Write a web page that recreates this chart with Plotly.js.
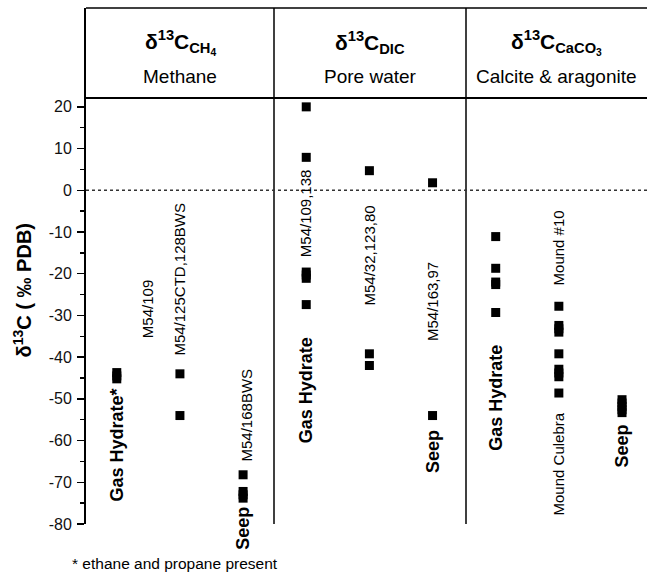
<!DOCTYPE html>
<html><head><meta charset="utf-8">
<script src="https://cdn.plot.ly/plotly-3.0.1.min.js"></script>
<style>body{margin:0;background:#fff}#chart{width:647px;height:574px}</style>
</head><body><div id="chart"></div>
<script>
// ---- data ----
const categories = ['CH4 Gas Hydrate','CH4 M54/125CTD,128BWS','CH4 Seep','DIC Gas Hydrate','DIC M54/32,123,80','DIC Seep','CaCO3 Gas Hydrate','CaCO3 Mound','CaCO3 Seep'];
const ch4GasHydrate = [-43.7, -44.5, -45.2];
const ch4M54_125 = [-44, -54];
const ch4Seep = [-68.2, -72.2, -73, -73.8];
const dicGasHydrate = [20, 7.9, -19.6, -20.3, -21.1, -27.4];
const dicM54_32 = [4.7, -39.2, -42];
const dicSeep = [1.8, -54];
const caco3GasHydrate = [-11.1, -18.7, -22, -22.6, -29.3];
const caco3Mound = [-27.8, -32.4, -33.2, -34, -39.2, -42.9, -43.8, -44.7, -48.6];
const caco3Seep = [-50.2, -51, -51.8, -52.6, -53.3];
const yTickVals = [-80, -70, -60, -50, -40, -30, -20, -10, 0, 10, 20];
const yMinorVals = [-75, -65, -55, -45, -35, -25, -15, -5, 5, 15];
const yTickText = yTickVals.map(String);
const headerTitles = ['δ<sup>13</sup>C<sub>CH<sub>4</sub></sub>', 'δ<sup>13</sup>C<sub>DIC</sub>', 'δ<sup>13</sup>C<sub>CaCO<sub>3</sub></sub>'];
const headerNames = ['Methane', 'Pore water', 'Calcite &amp; aragonite'];
const footnote = '* ethane and propane present';
const yTitle = 'δ<sup>13</sup>C ( ‰ PDB)';

const series = [ch4GasHydrate, ch4M54_125, ch4Seep, dicGasHydrate, dicM54_32, dicSeep, caco3GasHydrate, caco3Mound, caco3Seep];

// ---- layout helpers ----
const W = 647, H = 574;
const M = {l: 86, r: 0, t: 8, b: 50};
const plotH = H - M.t - M.b, plotW = W - M.l - M.r;
const pxToPaperX = px => (px - M.l) / plotW;
const pxToPaperY = py => (H - M.b - py) / plotH;

const traces = series.map((vals, i) => ({
  type: 'scatter', mode: 'markers', name: categories[i],
  x: vals.map(() => i + 1), y: vals,
  marker: {symbol: 'square', size: 9, color: '#000', line: {width: 0}},
  hoverinfo: 'y', showlegend: false
}));

const FONT = 'Liberation Sans, Arial, sans-serif';
const reg = {family: FONT, size: 15, color: '#000'};
const bold = {family: FONT, size: 18, color: '#000', weight: 'bold'};

function lab(text, x, y, anchor, isBold) {
  return {text: isBold ? '<b>' + text + '</b>' : text, x: x, y: y, xref: 'x', yref: 'y',
    textangle: -90, showarrow: false, xanchor: 'center', yanchor: anchor,
    font: isBold ? bold : reg};
}

const annotations = [
  lab('Gas Hydrate*', 1, -47, 'top', true),
  lab('M54/109', 1.48, -35.9, 'bottom', false),
  lab('M54/125CTD,128BWS', 2, -40, 'bottom', false),
  lab('M54/168BWS', 3.06, -65.4, 'bottom', false),
  lab('Seep', 3, -75.5, 'top', true),
  lab('M54/109,138', 4, 5.6, 'top', false),
  lab('Gas Hydrate', 4, -34.7, 'top', true),
  lab('M54/32,123,80', 5, -28, 'bottom', false),
  lab('M54/163,97', 6, -36.6, 'bottom', false),
  lab('Seep', 6, -57, 'top', true),
  lab('Gas Hydrate', 7, -36.6, 'top', true),
  lab('Mound #10', 8, -23.2, 'bottom', false),
  lab('Mound Culebra', 8, -52.7, 'top', false),
  lab('Seep', 9, -55.8, 'top', true)
];

const headerX = [180, 370, 556];
headerX.forEach((px, i) => {
  annotations.push({text: '<b>' + headerTitles[i] + '</b>', xref: 'paper', yref: 'paper',
    x: pxToPaperX(px), y: pxToPaperY(42), xanchor: 'center', yanchor: 'middle', showarrow: false,
    font: {family: FONT, size: 21, color: '#000'}});
  annotations.push({text: headerNames[i], xref: 'paper', yref: 'paper',
    x: pxToPaperX(px), y: pxToPaperY(76), xanchor: 'center', yanchor: 'middle', showarrow: false,
    font: {family: FONT, size: 19, color: '#000'}});
});

annotations.push({text: '<b>' + yTitle + '</b>', xref: 'paper', yref: 'y',
  x: pxToPaperX(22), y: -24, xanchor: 'center', yanchor: 'middle', textangle: -90, showarrow: false,
  font: {family: FONT, size: 20, color: '#000'}});
annotations.push({text: footnote, xref: 'paper', yref: 'paper',
  x: pxToPaperX(70), y: pxToPaperY(563), xanchor: 'left', yanchor: 'middle', showarrow: false,
  font: {family: FONT, size: 15.5, color: '#000'}});

const shapes = [
  {type: 'line', xref: 'paper', yref: 'paper', x0: 0, x1: 1, y0: 1, y1: 1, line: {color: '#000', width: 1.5}},
  {type: 'line', xref: 'paper', yref: 'paper', x0: 0, x1: 1, y0: pxToPaperY(98), y1: pxToPaperY(98), line: {color: '#000', width: 2}},
  {type: 'line', xref: 'paper', yref: 'paper', x0: pxToPaperX(274), x1: pxToPaperX(274), y0: 0, y1: 1, line: {color: '#000', width: 1.5}},
  {type: 'line', xref: 'paper', yref: 'paper', x0: pxToPaperX(466), x1: pxToPaperX(466), y0: 0, y1: 1, line: {color: '#000', width: 1.5}},
  {type: 'line', xref: 'paper', yref: 'y', x0: 0, x1: 1, y0: 0, y1: 0, line: {color: '#333', width: 1.5, dash: 'dot'}}
];

const layout = {
  width: W, height: H, margin: M,
  paper_bgcolor: '#fff', plot_bgcolor: '#fff',
  showlegend: false,
  xaxis: {range: [2 - 94/63.2, 9 + 25/63.2], visible: false, fixedrange: true},
  yaxis: {range: [-80, 43.7], tickmode: 'array', tickvals: yTickVals, ticktext: yTickText,
    ticks: 'outside', ticklen: 7, tickwidth: 1.5, tickcolor: '#000',
    minor: {tickmode: 'array', tickvals: yMinorVals, ticks: 'outside', ticklen: 4, tickwidth: 1.5, tickcolor: '#000'},
    showline: true, linewidth: 2, linecolor: '#000', showgrid: false, zeroline: false,
    tickfont: {family: FONT, size: 16, color: '#111'}, ticklabelstandoff: 2},
  annotations: annotations,
  shapes: shapes
};

Plotly.newPlot('chart', traces, layout, {displayModeBar: false, staticPlot: true});
</script>
</body></html>
